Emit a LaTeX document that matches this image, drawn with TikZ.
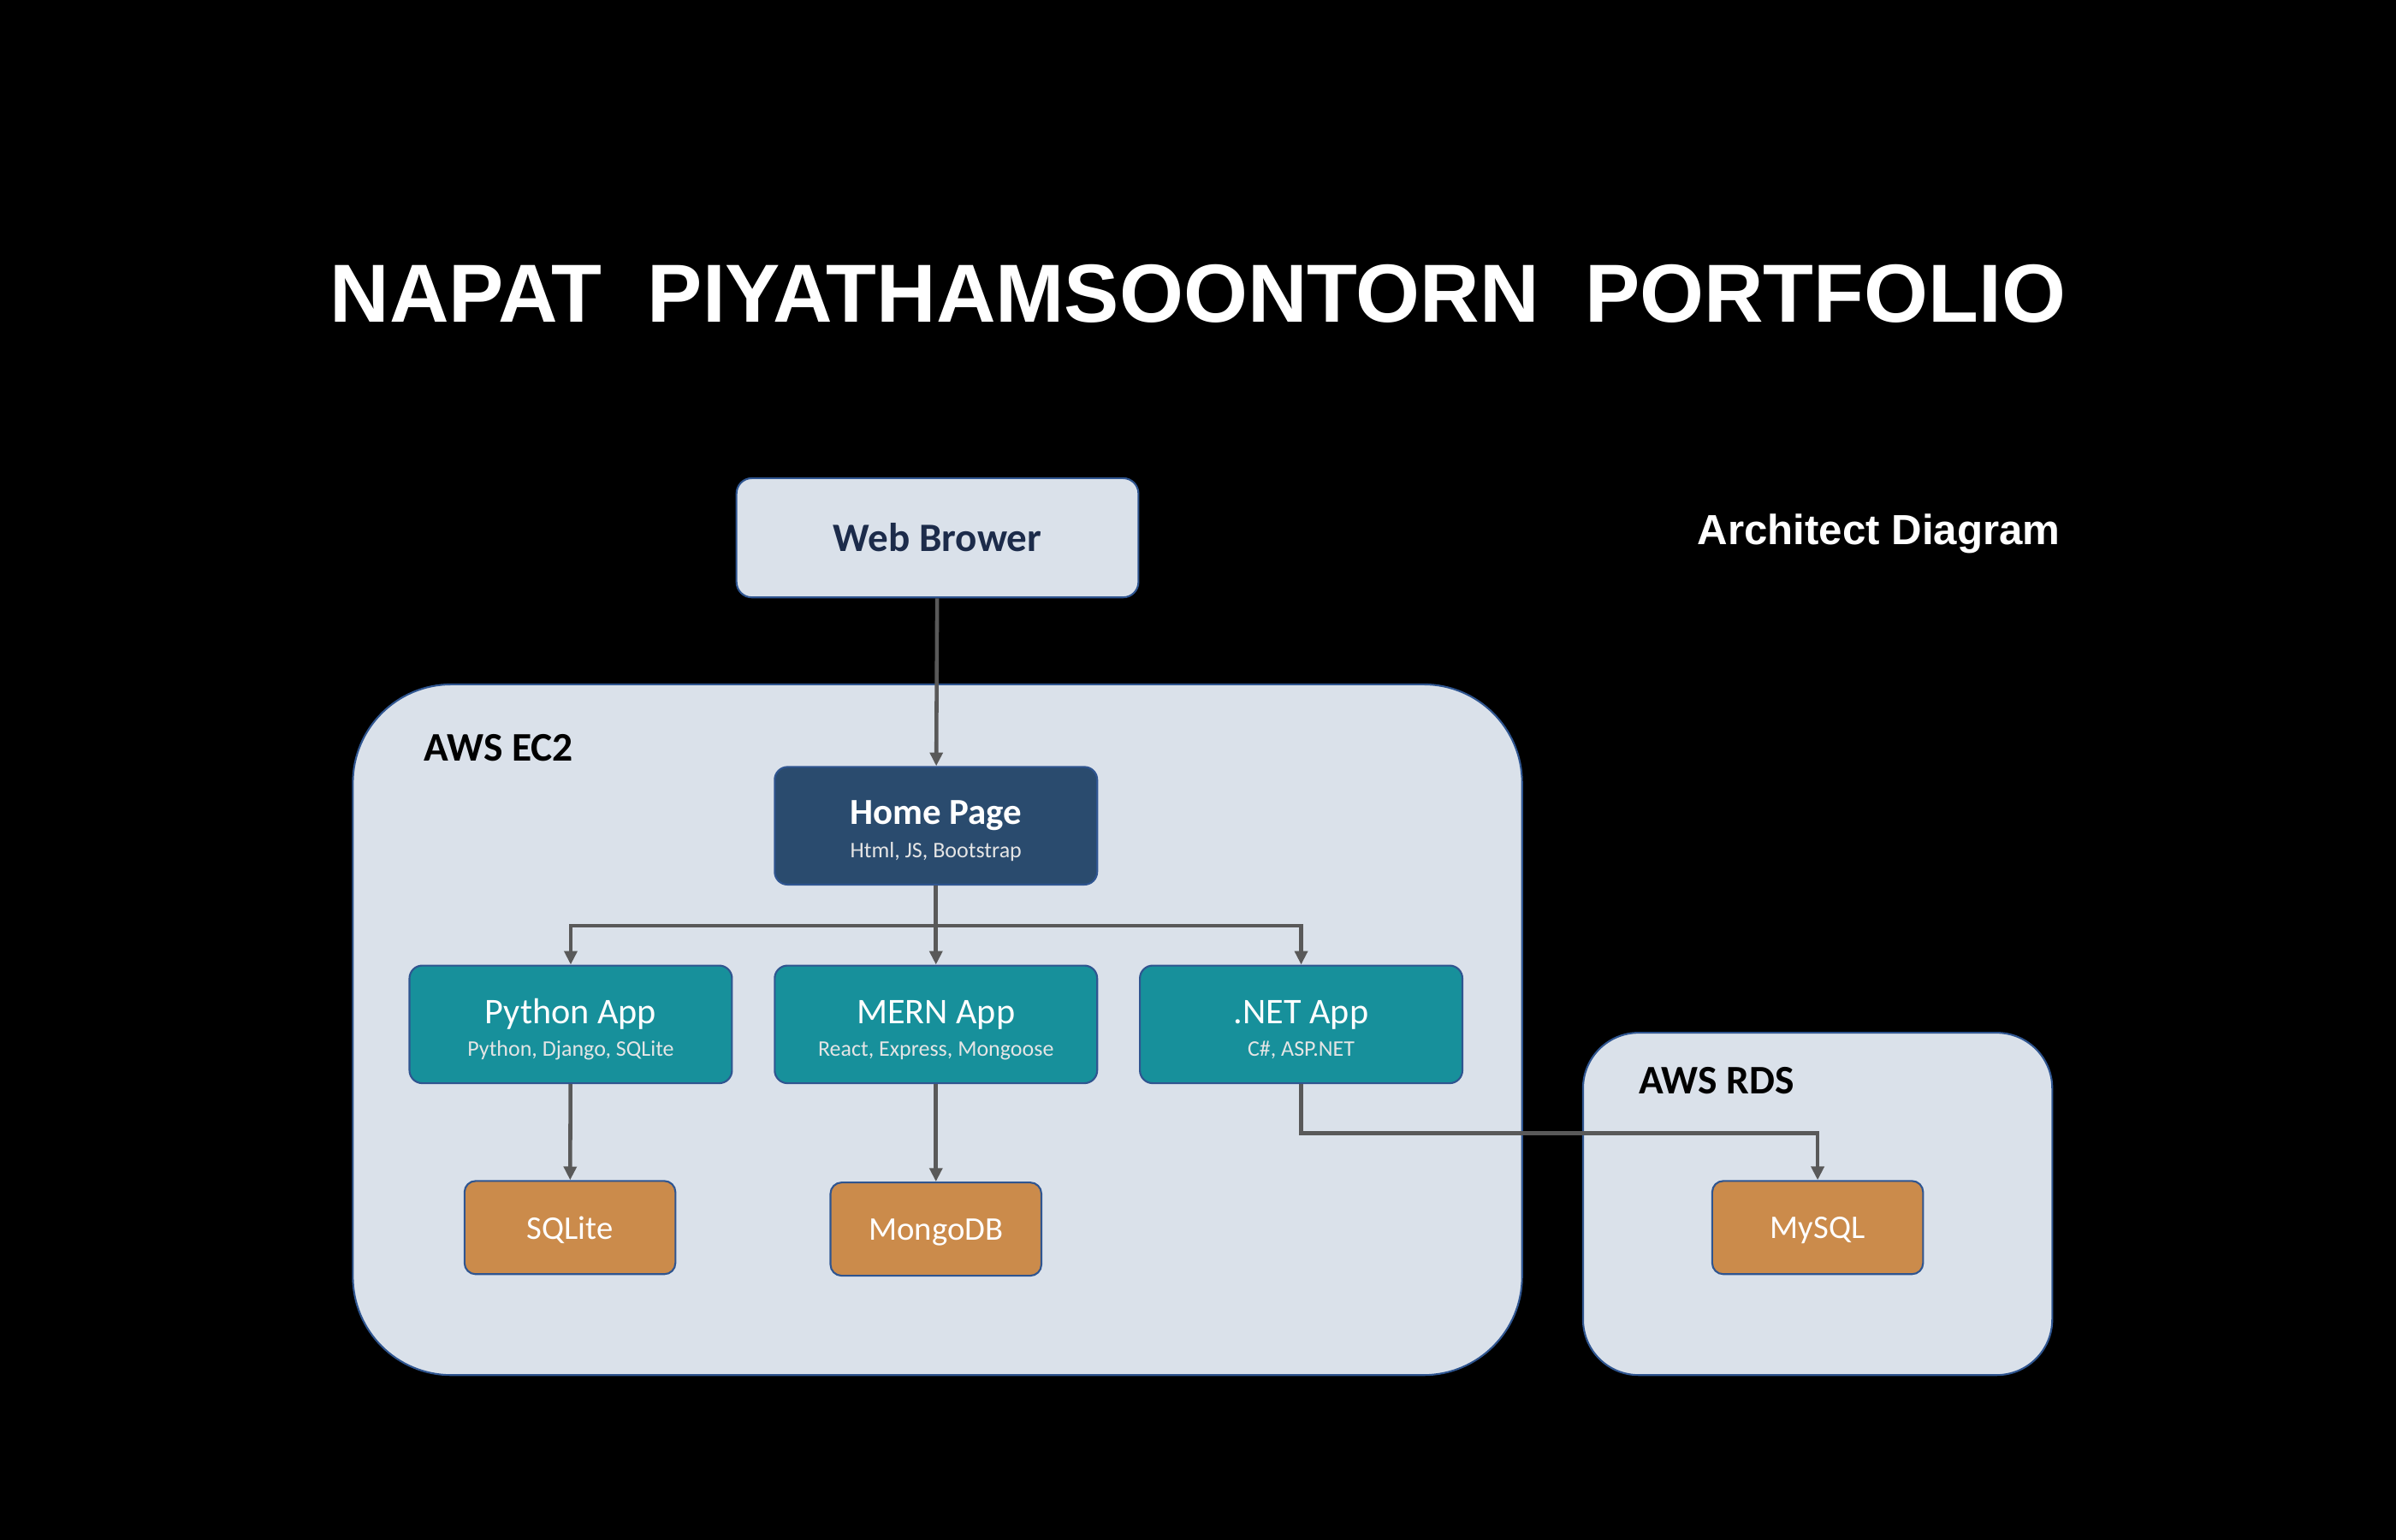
\documentclass[tikz,border=0pt]{standalone}
\usepackage{fontspec}
\setmainfont{Carlito}
\newfontfamily\headfont{Liberation Sans}
\usepackage{tikz}
\usetikzlibrary{arrows.meta}
\usetikzlibrary{positioning}
\definecolor{paleblue}{HTML}{DAE1EA}
\definecolor{homeblue}{HTML}{2A4B6E}
\definecolor{appteal}{HTML}{17909B}
\definecolor{dborange}{HTML}{CB8B4B}
\definecolor{edgeblue}{HTML}{2F5590}
\definecolor{linegray}{HTML}{595959}
\definecolor{navytext}{HTML}{1C2B4A}
\tikzset{
    cloud/.style={
        draw=edgeblue,
        line width=0.6pt,
        fill=paleblue,
        inner sep=0pt
    },
    appbox/.style={
        draw=edgeblue,
        line width=0.6pt,
        fill=appteal,
        rounded corners=0.15cm,
        minimum width=3.768cm,
        minimum height=1.375cm,
        inner sep=0pt,
        align=center,
        text=white,
        font=\fontsize{12}{10.8}\selectfont
    },
    dbbox/.style={
        draw=edgeblue,
        line width=0.6pt,
        fill=dborange,
        rounded corners=0.13cm,
        minimum width=2.464cm,
        minimum height=1.089cm,
        inner sep=0pt,
        text=white,
        text depth=0pt,
        font=\fontsize{11}{13}\selectfont
    },
    conn/.style={
        draw=linegray,
        line width=1.3pt,
        -{Triangle[length=4.5pt, width=4.2pt]}
    }
}
\newcommand{\appsub}[1]{{\fontsize{7.4}{10.8}\selectfont\color{white!90!black}#1}}
\newcommand{\apptop}{\rule{0pt}{11.5pt}}

\begin{document}
\begin{tikzpicture}[x=0.017857cm, y=-0.017857cm]
    \useasboundingbox[fill=black] (0,0) rectangle (1568,1008);

    % Headings
    \node[text=white, font=\headfont\bfseries\fontsize{27.4}{32}\selectfont] (title) at (784,192) {NAPAT~~PIYATHAMSOONTORN~~PORTFOLIO};
    \node[text=white, font=\headfont\bfseries\fontsize{14}{16}\selectfont, anchor=base] (subtitle) at (1229.5,356.5) {Architect Diagram};

    % Containers
    \node[cloud, rounded corners=1.15cm, minimum width=13.66cm, minimum height=8.071cm] (ec2) at (613.5,674) {};
    \node[cloud, rounded corners=0.65cm, minimum width=5.482cm, minimum height=4.0cm] (rds) at (1189.5,788) {};
    \node[anchor=base west, font=\bfseries\fontsize{13.5}{15}\selectfont, inner sep=0pt] (ec2label) at (277,498) {AWS EC2};
    \node[anchor=base west, font=\bfseries\fontsize{13.5}{15}\selectfont, inner sep=0pt] (rdslabel) at (1072,716) {AWS RDS};

    % Client
    \node[cloud, rounded corners=0.18cm, minimum width=4.696cm, minimum height=1.393cm, text=navytext, font=\bfseries\fontsize{13.4}{15}\selectfont] (web) at (613.5,352) {Web Brower};

    % Apps
    \node[appbox, fill=homeblue, font=\bfseries\fontsize{12.2}{11}\selectfont] (home) at (612.5,540.5) {\apptop Home Page\\\appsub{\mdseries Html, JS, Bootstrap}};
    \node[appbox] (python) at (373.5,670.5) {\apptop Python App\\\appsub{Python, Django, SQLite}};
    \node[appbox] (mern) at (612.5,670.5) {\apptop MERN App\\\appsub{React, Express, Mongoose}};
    \node[appbox] (net) at (851.5,670.5) {\apptop .NET App\\\appsub{C\#, ASP.NET}};

    % Databases
    \node[dbbox] (sqlite) at (373,803.5) {SQLite};
    \node[dbbox] (mongo) at (612.5,804.5) {MongoDB};
    \node[dbbox] (mysql) at (1189.5,803.5) {MySQL};

    % Connectors
    \coordinate (split) at (612.5,606);
    \draw[conn] (web) -- (home);
    \draw[conn] (home.south) -- (split) -| (python.north);
    \draw[conn] (home) -- (mern);
    \draw[conn] (home.south) -- (split) -| (net.north);
    \draw[conn] (python) -- (sqlite);
    \draw[conn] (mern) -- (mongo);
    \draw[conn] (net.south) -- ++(0,32) -| (mysql.north);
\end{tikzpicture}
\end{document}
